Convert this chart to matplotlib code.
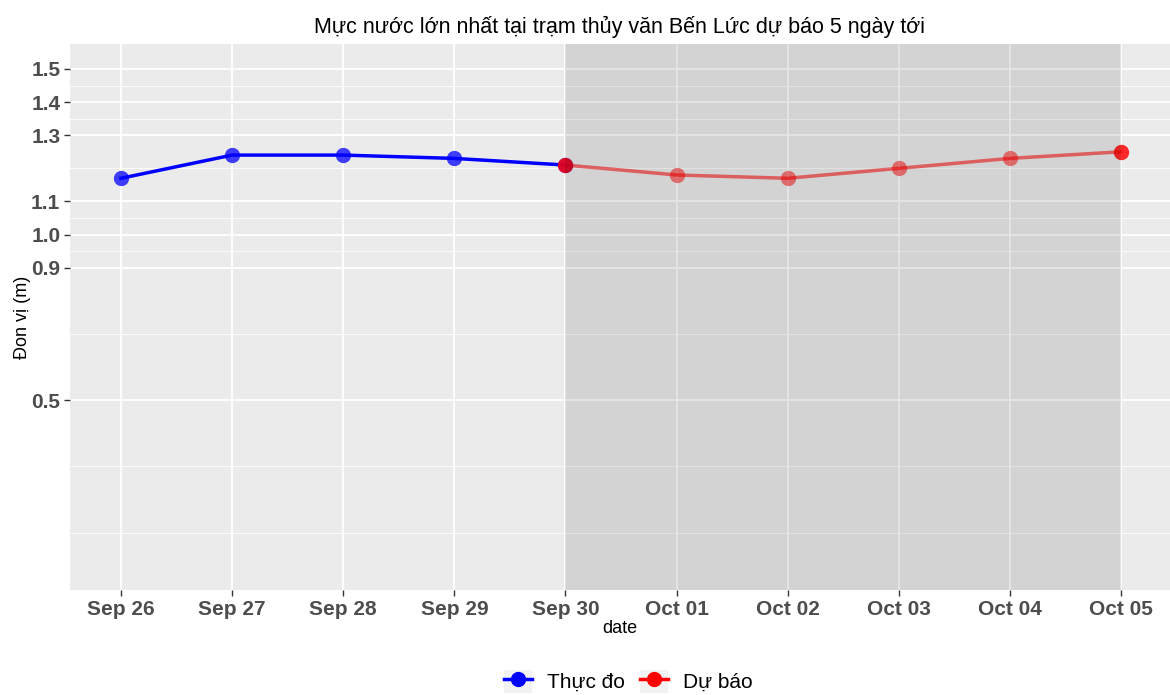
import matplotlib
matplotlib.use("Agg")
import matplotlib.pyplot as plt
from matplotlib.patches import Rectangle
from matplotlib.lines import Line2D
from matplotlib.legend_handler import HandlerLine2D
import pandas as pd

plt.rcParams['font.family'] = ['Liberation Sans', 'DejaVu Sans']

# data
obs_dates = pd.to_datetime(["2024-09-26", "2024-09-27", "2024-09-28", "2024-09-29", "2024-09-30"])
obs_level = [1.17, 1.24, 1.24, 1.23, 1.21]
fc_dates = pd.to_datetime(["2024-09-30", "2024-10-01", "2024-10-02", "2024-10-03", "2024-10-04", "2024-10-05"])
fc_level = [1.21, 1.18, 1.17, 1.20, 1.23, 1.25]

y_breaks = [0.5, 0.9, 1.0, 1.1, 1.3, 1.4, 1.5]
y_minor = [0.1, 0.3, 0.7, 0.95, 1.05, 1.2, 1.35, 1.45]
x_labels = ["Sep 26", "Sep 27", "Sep 28", "Sep 29", "Sep 30",
            "Oct 01", "Oct 02", "Oct 03", "Oct 04", "Oct 05"]

title = "Mực nước lớn nhất tại trạm thủy văn Bến Lức dự báo 5 ngày tới"

# gray box behind each legend key, like ggplot
class KeyHandler(HandlerLine2D):
    def create_artists(self, legend, orig_handle, xdescent, ydescent,
                       width, height, fontsize, trans):
        bg = Rectangle((-xdescent, -ydescent), width, height,
                       facecolor='#F2F2F2', edgecolor='none', transform=trans)
        arts = super().create_artists(legend, orig_handle, xdescent, ydescent,
                                      width, height, fontsize, trans)
        return [bg] + list(arts)

fig = plt.figure(figsize=(11.7, 6.95), dpi=100)
ax = fig.add_axes([70 / 1170, 0.151, 1 - 70 / 1170, 0.786])
ax.set_facecolor('#EBEBEB')
for s in ax.spines.values():
    s.set_visible(False)

all_dates = obs_dates.append(fc_dates[1:])
ax.set_xticks(all_dates)
ax.set_xticklabels(x_labels)
ax.set_yticks(y_breaks)
ax.set_yticks(y_minor, minor=True)
ax.grid(True, which='major', color='white', lw=1.3, zorder=0)
ax.grid(True, which='minor', axis='y', color='white', lw=0.6, zorder=0)
ax.set_axisbelow(True)

ax.plot(obs_dates, obs_level, color='blue', lw=2.5, zorder=3)
ax.plot(obs_dates, obs_level, 'o', color='blue', alpha=0.75, ms=11, mec='none', zorder=4)
ax.plot(fc_dates, fc_level, color='red', lw=2.5, alpha=0.55, zorder=3)
ax.plot(fc_dates, fc_level, 'o', color='red', alpha=0.5, ms=11, mec='none', zorder=4)
ax.plot(fc_dates[[0, -1]], [fc_level[0], fc_level[-1]], 'o', color='red', alpha=0.65,
        ms=11, mec='none', zorder=4)

# forecast window, drawn over the forecast line
ax.axvspan(fc_dates[0], fc_dates[-1], color='black', alpha=0.1, lw=0, zorder=5)

day = pd.Timedelta(days=1)
ax.set_xlim(all_dates[0] - day * 0.459, all_dates[-1] + day * 0.441)
ax.set_ylim(-0.073, 1.576)

ax.tick_params(axis='both', which='major', length=4, width=1, color='#333333',
               labelcolor='#4D4D4D', labelsize=15, pad=3)
ax.tick_params(axis='y', which='minor', length=0)
for lab in ax.get_xticklabels() + ax.get_yticklabels():
    lab.set_fontweight('bold')

ax.set_xlabel("date", fontsize=13, labelpad=1)
ax.set_ylabel("Đon vị (m)", fontsize=13, labelpad=0)
ax.set_title(title, fontsize=15.5, pad=8)

handles = [Line2D([], [], color='blue', lw=2.5, marker='o', ms=11, mec='none'),
           Line2D([], [], color='red', lw=2.5, marker='o', ms=11, mec='none')]
fig.legend(handles, ["Thực đo", "Dự báo"], loc='lower center', ncol=2,
           bbox_to_anchor=(0.537, -0.024), frameon=False, fontsize=15,
           handlelength=1.35, handleheight=1.35, handletextpad=0.72, columnspacing=0.72,
           handler_map={Line2D: KeyHandler(numpoints=1)})

fig.savefig("out.png", dpi=100)
